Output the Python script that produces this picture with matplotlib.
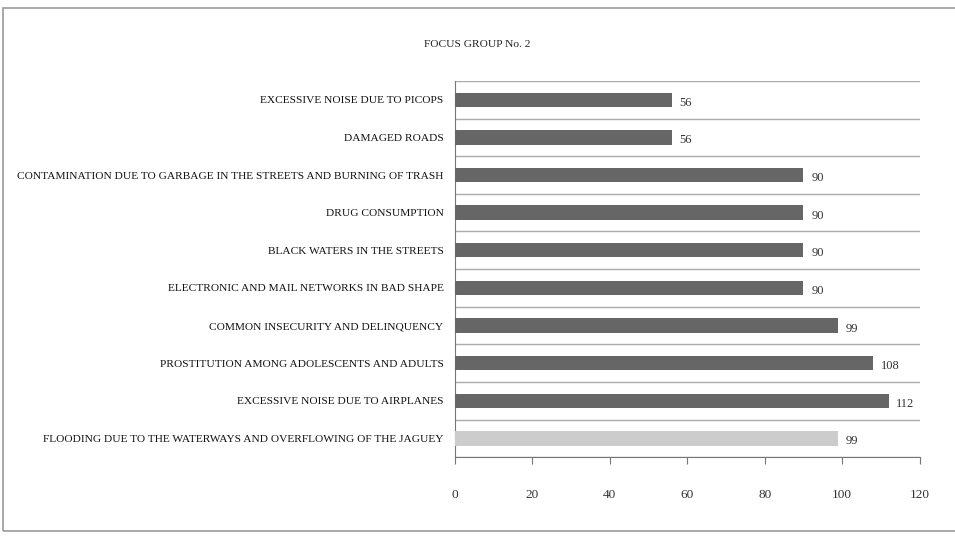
import matplotlib.pyplot as plt
from matplotlib.patches import Rectangle

# ---------------------------------------------------------------- #
#                               Data                               #
# ---------------------------------------------------------------- #

title = 'FOCUS GROUP No. 2'

problems = [
    'EXCESSIVE NOISE DUE TO PICOPS',
    'DAMAGED ROADS',
    'CONTAMINATION DUE TO GARBAGE IN THE STREETS AND BURNING OF TRASH',
    'DRUG CONSUMPTION',
    'BLACK WATERS IN THE STREETS',
    'ELECTRONIC AND MAIL NETWORKS IN BAD SHAPE',
    'COMMON INSECURITY AND DELINQUENCY',
    'PROSTITUTION AMONG ADOLESCENTS AND ADULTS',
    'EXCESSIVE NOISE DUE TO AIRPLANES',
    'FLOODING DUE TO THE WATERWAYS AND OVERFLOWING OF THE JAGUEY',
]
scores = [56, 56, 90, 90, 90, 90, 99, 108, 112, 99]
highlight = [False] * 9 + [True]

x_ticks = [0, 20, 40, 60, 80, 100, 120]

# ---------------------------------------------------------------- #
#                               Plot                               #
# ---------------------------------------------------------------- #

plt.rcParams['font.family'] = ['Liberation Serif', 'DejaVu Serif']

fig = plt.figure(figsize=(9.55, 5.36), dpi=100)
ax = fig.add_axes([0.476, 0.147, 0.487, 0.702])

colors = ['#cccccc' if h else '#666666' for h in highlight]
ypos = list(range(len(problems)))
ax.barh(ypos, scores, height=0.38, color=colors, zorder=3)

for y, v in zip(ypos, scores):
    ax.text(v + 2, y + 0.08, str(v), va='center', ha='left', fontsize=9, color='#333333')

# separators between categories
for b in range(len(problems) + 1):
    ax.axhline(b - 0.5, color='#aaaaaa', lw=1.0, zorder=1)

ax.set_ylim(len(problems) - 0.5, -0.5)
ax.set_xlim(0, 120)
ax.set_yticks(ypos)
ax.set_yticklabels(problems, fontsize=8.2, color='#111111')
ax.tick_params(axis='y', length=0, pad=8)
ax.set_xticks(x_ticks)
ax.set_xticklabels([str(t) for t in x_ticks], fontsize=9.5, color='#333333')
ax.tick_params(axis='x', length=5, color='#777777', pad=18)

for side in ['top', 'right']:
    ax.spines[side].set_visible(False)
ax.spines['left'].set_color('#777777')
ax.spines['bottom'].set_color('#777777')

fig.text(0.5, 0.917, title, ha='center', va='center', fontsize=8.2, color='#222222')

# outer chart border
fig.patches.append(Rectangle((0.003, 0.01), 1.1, 0.975, transform=fig.transFigure,
                             fill=False, edgecolor='#999999', lw=1.2))

fig.savefig('out.png', dpi=100)
